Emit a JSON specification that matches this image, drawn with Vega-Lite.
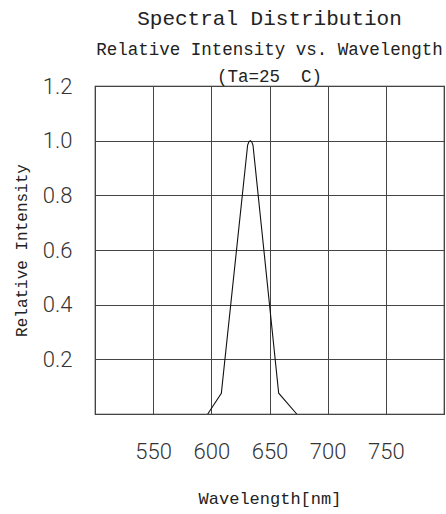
{
  "$schema": "https://vega.github.io/schema/vega-lite/v6.json",
  "width": 349,
  "height": 328,
  "autosize": {"type": "none"},
  "padding": {"left": 95, "top": 86, "right": 2, "bottom": 100},
  "background": "white",
  "title": {
    "text": "Spectral Distribution",
    "subtitle": ["Relative Intensity vs. Wavelength", "\u2007\u2007\u2007(Ta=25\u00a0\u00a0C)"],
    "font": "Liberation Mono",
    "fontSize": 21,
    "fontWeight": "normal",
    "color": "#222",
    "subtitleFont": "Liberation Mono",
    "subtitleFontSize": 17.5,
    "subtitleColor": "#222",
    "subtitleLineHeight": 27,
    "subtitlePadding": 12,
    "anchor": "middle",
    "frame": "group",
    "offset": -10
  },
  "config": {
    "view": {"stroke": "#222", "strokeWidth": 1.2}
  },
  "data": {
    "values": [
      {"wavelength": 596.9, "intensity": 0},
      {"wavelength": 608.6, "intensity": 0.076},
      {"wavelength": 631.2, "intensity": 0.984},
      {"wavelength": 632.3, "intensity": 0.996},
      {"wavelength": 633.5, "intensity": 1.0},
      {"wavelength": 634.7, "intensity": 0.996},
      {"wavelength": 635.8, "intensity": 0.984},
      {"wavelength": 657.9, "intensity": 0.076},
      {"wavelength": 673.4, "intensity": 0}
    ]
  },
  "mark": {"type": "line", "color": "#111", "strokeWidth": 1.1},
  "encoding": {
    "x": {
      "field": "wavelength",
      "type": "quantitative",
      "scale": {"domain": [500, 800], "nice": false, "zero": false},
      "axis": {
        "values": [500, 550, 600, 650, 700, 750, 800],
        "labelExpr": "datum.value == 500 || datum.value == 800 ? '' : datum.label",
        "grid": true,
        "gridColor": "#444",
        "gridOpacity": 1,
        "gridWidth": 1,
        "ticks": false,
        "domain": false,
        "labelFont": "Roboto",
        "labelFontWeight": 300,
        "labelFontSize": 22,
        "labelColor": "#333",
        "labelPadding": 27,
        "labelDx": -4,
        "title": "Wavelength[nm]",
        "titleFont": "Liberation Mono",
        "titleFontSize": 17,
        "titleFontWeight": "normal",
        "titleColor": "#222",
        "titleY": 84,
        "titleBaseline": "middle"
      }
    },
    "y": {
      "field": "intensity",
      "type": "quantitative",
      "scale": {"domain": [0, 1.2], "nice": false},
      "axis": {
        "values": [0, 0.2, 0.4, 0.6, 0.8, 1.0, 1.2],
        "labelExpr": "datum.value == 0 ? '' : format(datum.value, '.1f')",
        "grid": true,
        "gridColor": "#444",
        "gridOpacity": 1,
        "gridWidth": 1,
        "ticks": false,
        "domain": false,
        "labelFont": "Roboto",
        "labelFontWeight": 300,
        "labelFontSize": 22,
        "labelColor": "#333",
        "labelPadding": 23,
        "title": "Relative Intensity",
        "titleFont": "Liberation Mono",
        "titleFontSize": 16,
        "titleFontWeight": "normal",
        "titleColor": "#222",
        "titleX": -74,
        "titleBaseline": "middle"
      }
    }
  }
}
